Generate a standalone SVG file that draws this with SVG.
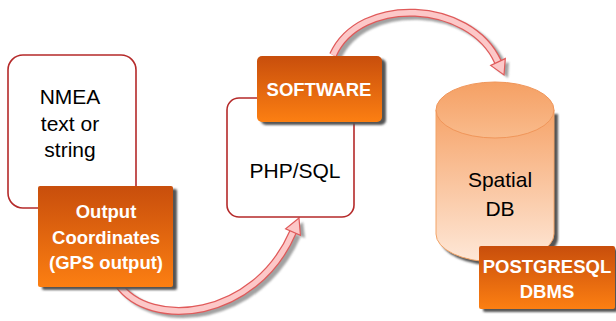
<svg xmlns="http://www.w3.org/2000/svg" width="616" height="321" viewBox="0 0 616 321">
<defs>
<linearGradient id="og" x1="0" y1="0" x2="0" y2="1">
<stop offset="0" stop-color="#c84e0c"/>
<stop offset="1" stop-color="#fc7f12"/>
</linearGradient>
<linearGradient id="cyl" x1="0" y1="0" x2="0" y2="1">
<stop offset="0" stop-color="#f6a46a"/>
<stop offset="1" stop-color="#fee8d8"/>
</linearGradient>
<linearGradient id="cyltop" x1="0" y1="0" x2="0" y2="1">
<stop offset="0" stop-color="#f5a064"/>
<stop offset="1" stop-color="#f9bb8c"/>
</linearGradient>
<filter id="blur" x="-20%" y="-20%" width="140%" height="140%">
<feGaussianBlur stdDeviation="1.2"/>
</filter>
<style>
.plain{fill:#ffffff;stroke:#b52a2a;stroke-width:1.6}
.orange{fill:url(#og)}
.shadow{fill:#555555;filter:url(#blur)}
.t{font-family:"Liberation Sans",Arial,sans-serif;font-size:21px;fill:#000000;text-anchor:middle}
.b{font-family:"Liberation Sans",Arial,sans-serif;font-size:18.5px;font-weight:bold;fill:#ffffff;text-anchor:middle}
.arOut{fill:none;stroke:#e05a5a;stroke-width:8}
.arIn{fill:none;stroke:#fcc8c8;stroke-width:5.5}
.arHead{fill:#fcc8c8;stroke:#e05a5a;stroke-width:1.2;stroke-linejoin:miter}
.arSh{fill:none;stroke:#8a8a8a;stroke-width:8;filter:url(#blur);opacity:0.8}
.arShH{fill:#8a8a8a;filter:url(#blur);opacity:0.8}
</style>
</defs>

<g id="connectors">
<g id="arrow-gps-to-software">
<path class="arSh" d="M 122 287 C 154 333, 259 323, 297 235"/>
<polygon class="arShH" points="303,222 290,232 305,238"/>
<path class="arOut" d="M 118 284 C 150 330, 255 320, 293 232"/>
<path class="arIn" d="M 118 284 C 150 330, 255 320, 293 232"/>
<polygon class="arHead" points="299,218 285.6,228.8 300.4,235.2"/>
</g>
<g id="arrow-software-to-db">
<path class="arSh" d="M 337 58 C 364 -2, 474 3, 502 65"/>
<polygon class="arShH" points="508,78 509,62 495,68"/>
<path class="arOut" d="M 333 55 C 360 -5, 470 0, 498 62"/>
<path class="arIn" d="M 333 55 C 360 -5, 470 0, 498 62"/>
<polygon class="arHead" points="504,75 505.3,58.6 490.7,65.4"/>
</g>
</g>

<g id="node-nmea">
<rect class="plain" x="8" y="55" width="128" height="153" rx="15"/>
<text class="t" x="70" y="104">NMEA</text>
<text class="t" x="70" y="131">text or</text>
<text class="t" x="70" y="157">string</text>
</g>

<g id="node-output">
<rect class="shadow" x="42" y="189" width="135" height="101" rx="2"/>
<rect class="orange" x="38" y="186" width="135" height="101" rx="2"/>
<text class="b" x="106" y="218">Output</text>
<text class="b" x="106" y="244">Coordinates</text>
<text class="b" x="106" y="269">(GPS output)</text>
</g>

<g id="node-php">
<rect class="plain" x="227" y="98" width="127" height="119" rx="12"/>
<text class="t" x="295" y="178">PHP/SQL</text>
</g>

<g id="node-software">
<rect class="shadow" x="261" y="59" width="125" height="66" rx="5"/>
<rect class="orange" x="257" y="56" width="125" height="66" rx="5"/>
<text class="b" x="319" y="96">SOFTWARE</text>
</g>

<g id="node-spatialdb">
<path class="shadow" d="M 440 114 L 440 238 A 59 28 0 0 0 558 238 L 558 114 Z"/>
<path d="M 436 110 L 436 234 A 59 28 0 0 0 554 234 L 554 110 Z" fill="url(#cyl)" stroke="#f2a468" stroke-width="1"/>
<ellipse cx="495" cy="110" rx="59" ry="28" fill="url(#cyltop)" stroke="#f0965a" stroke-width="1"/>
<text class="t" x="500" y="187">Spatial</text>
<text class="t" x="500" y="216">DB</text>
</g>

<g id="node-postgresql">
<rect class="shadow" x="483" y="249" width="135" height="63" rx="2"/>
<rect class="orange" x="479" y="246" width="136" height="63" rx="2"/>
<text class="b" x="547" y="273">POSTGRESQL</text>
<text class="b" x="547" y="298">DBMS</text>
</g>
</svg>
